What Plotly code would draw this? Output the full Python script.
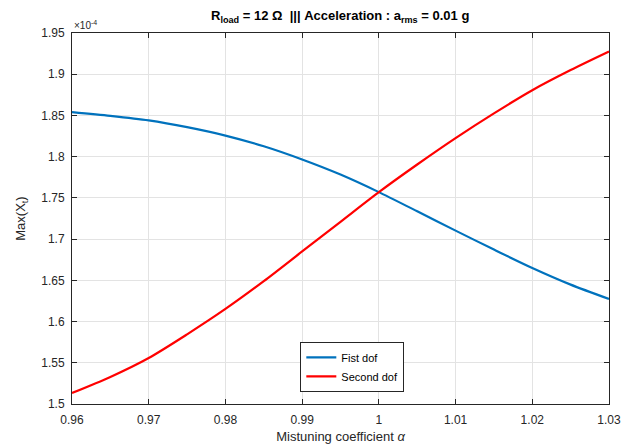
import plotly.graph_objects as go

alpha = [0.96, 0.965, 0.97, 0.975, 0.98, 0.985, 0.99, 0.995, 1.0, 1.005, 1.01, 1.015, 1.02, 1.025, 1.03]
first_dof = [1.854, 1.8495, 1.844, 1.8358, 1.8256, 1.8126, 1.7966, 1.7783, 1.757, 1.7337, 1.7103, 1.6873, 1.665, 1.6448, 1.6274]
second_dof = [1.5133, 1.5328, 1.5558, 1.5845, 1.6153, 1.649, 1.685, 1.721, 1.757, 1.7905, 1.8225, 1.8525, 1.8806, 1.905, 1.9275]
xticks = [0.96, 0.97, 0.98, 0.99, 1.0, 1.01, 1.02, 1.03]
xticklabels = ["0.96", "0.97", "0.98", "0.99", "1", "1.01", "1.02", "1.03"]
yticks = [1.5, 1.55, 1.6, 1.65, 1.7, 1.75, 1.8, 1.85, 1.9, 1.95]
yticklabels = ["1.5", "1.55", "1.6", "1.65", "1.7", "1.75", "1.8", "1.85", "1.9", "1.95"]

fig = go.Figure()
fig.add_trace(go.Scatter(x=alpha, y=first_dof, mode="lines", name="Fist dof",
                         line=dict(color="#0072BD", width=2.2, shape="spline", smoothing=0.8)))
fig.add_trace(go.Scatter(x=alpha, y=second_dof, mode="lines", name="Second dof",
                         line=dict(color="#FF0000", width=2.2, shape="spline", smoothing=0.8)))

font = "Liberation Sans, Arial, sans-serif"
axis_common = dict(showline=True, linecolor="#262626", linewidth=1, mirror="ticks",
                   ticks="inside", ticklen=5, tickcolor="#262626", automargin=False,
                   showgrid=True, gridcolor="#e3e3e3", gridwidth=1, zeroline=False,
                   tickfont=dict(family=font, size=12, color="#262626"))

fig.update_layout(
    width=630, height=446,
    margin=dict(l=72, r=21, t=33, b=42),
    paper_bgcolor="white", plot_bgcolor="white",
    showlegend=True,
    legend=dict(x=0.522, y=0.1, xanchor="center", yanchor="middle",
                bgcolor="white", bordercolor="#262626", borderwidth=1,
                font=dict(family=font, size=11, color="black"),
                tracegroupgap=0, itemwidth=30),
    title=dict(text="<b>R<sub>load</sub> = 12 Ω  ||| Acceleration : a<sub>rms</sub> = 0.01 g</b>",
               x=0.54, xanchor="center", y=0.975, yanchor="top",
               font=dict(family=font, size=13, color="black")),
    xaxis=dict(range=[0.96, 1.03], tickvals=xticks, ticktext=xticklabels,
               ticklabelstandoff=5,
               title=dict(text="Mistuning coefficient <i>α</i>", standoff=5,
                          font=dict(family=font, size=13, color="#262626")),
               **axis_common),
    yaxis=dict(range=[1.5, 1.95], tickvals=yticks, ticktext=yticklabels,
               ticklabelstandoff=4,
               title=dict(text="Max(X<sub>t</sub>)", standoff=12,
                          font=dict(family=font, size=13, color="#262626")),
               **axis_common),
)
fig.add_annotation(text="×10<sup>-4</sup>", xref="paper", yref="paper", x=0.0, y=1.0,
                   xanchor="left", yanchor="bottom", showarrow=False,
                   font=dict(family=font, size=10, color="#262626"))

fig.write_html("out.html", config={"displayModeBar": False},
               post_script="document.body.style.margin='0';document.body.style.overflow='hidden';")
